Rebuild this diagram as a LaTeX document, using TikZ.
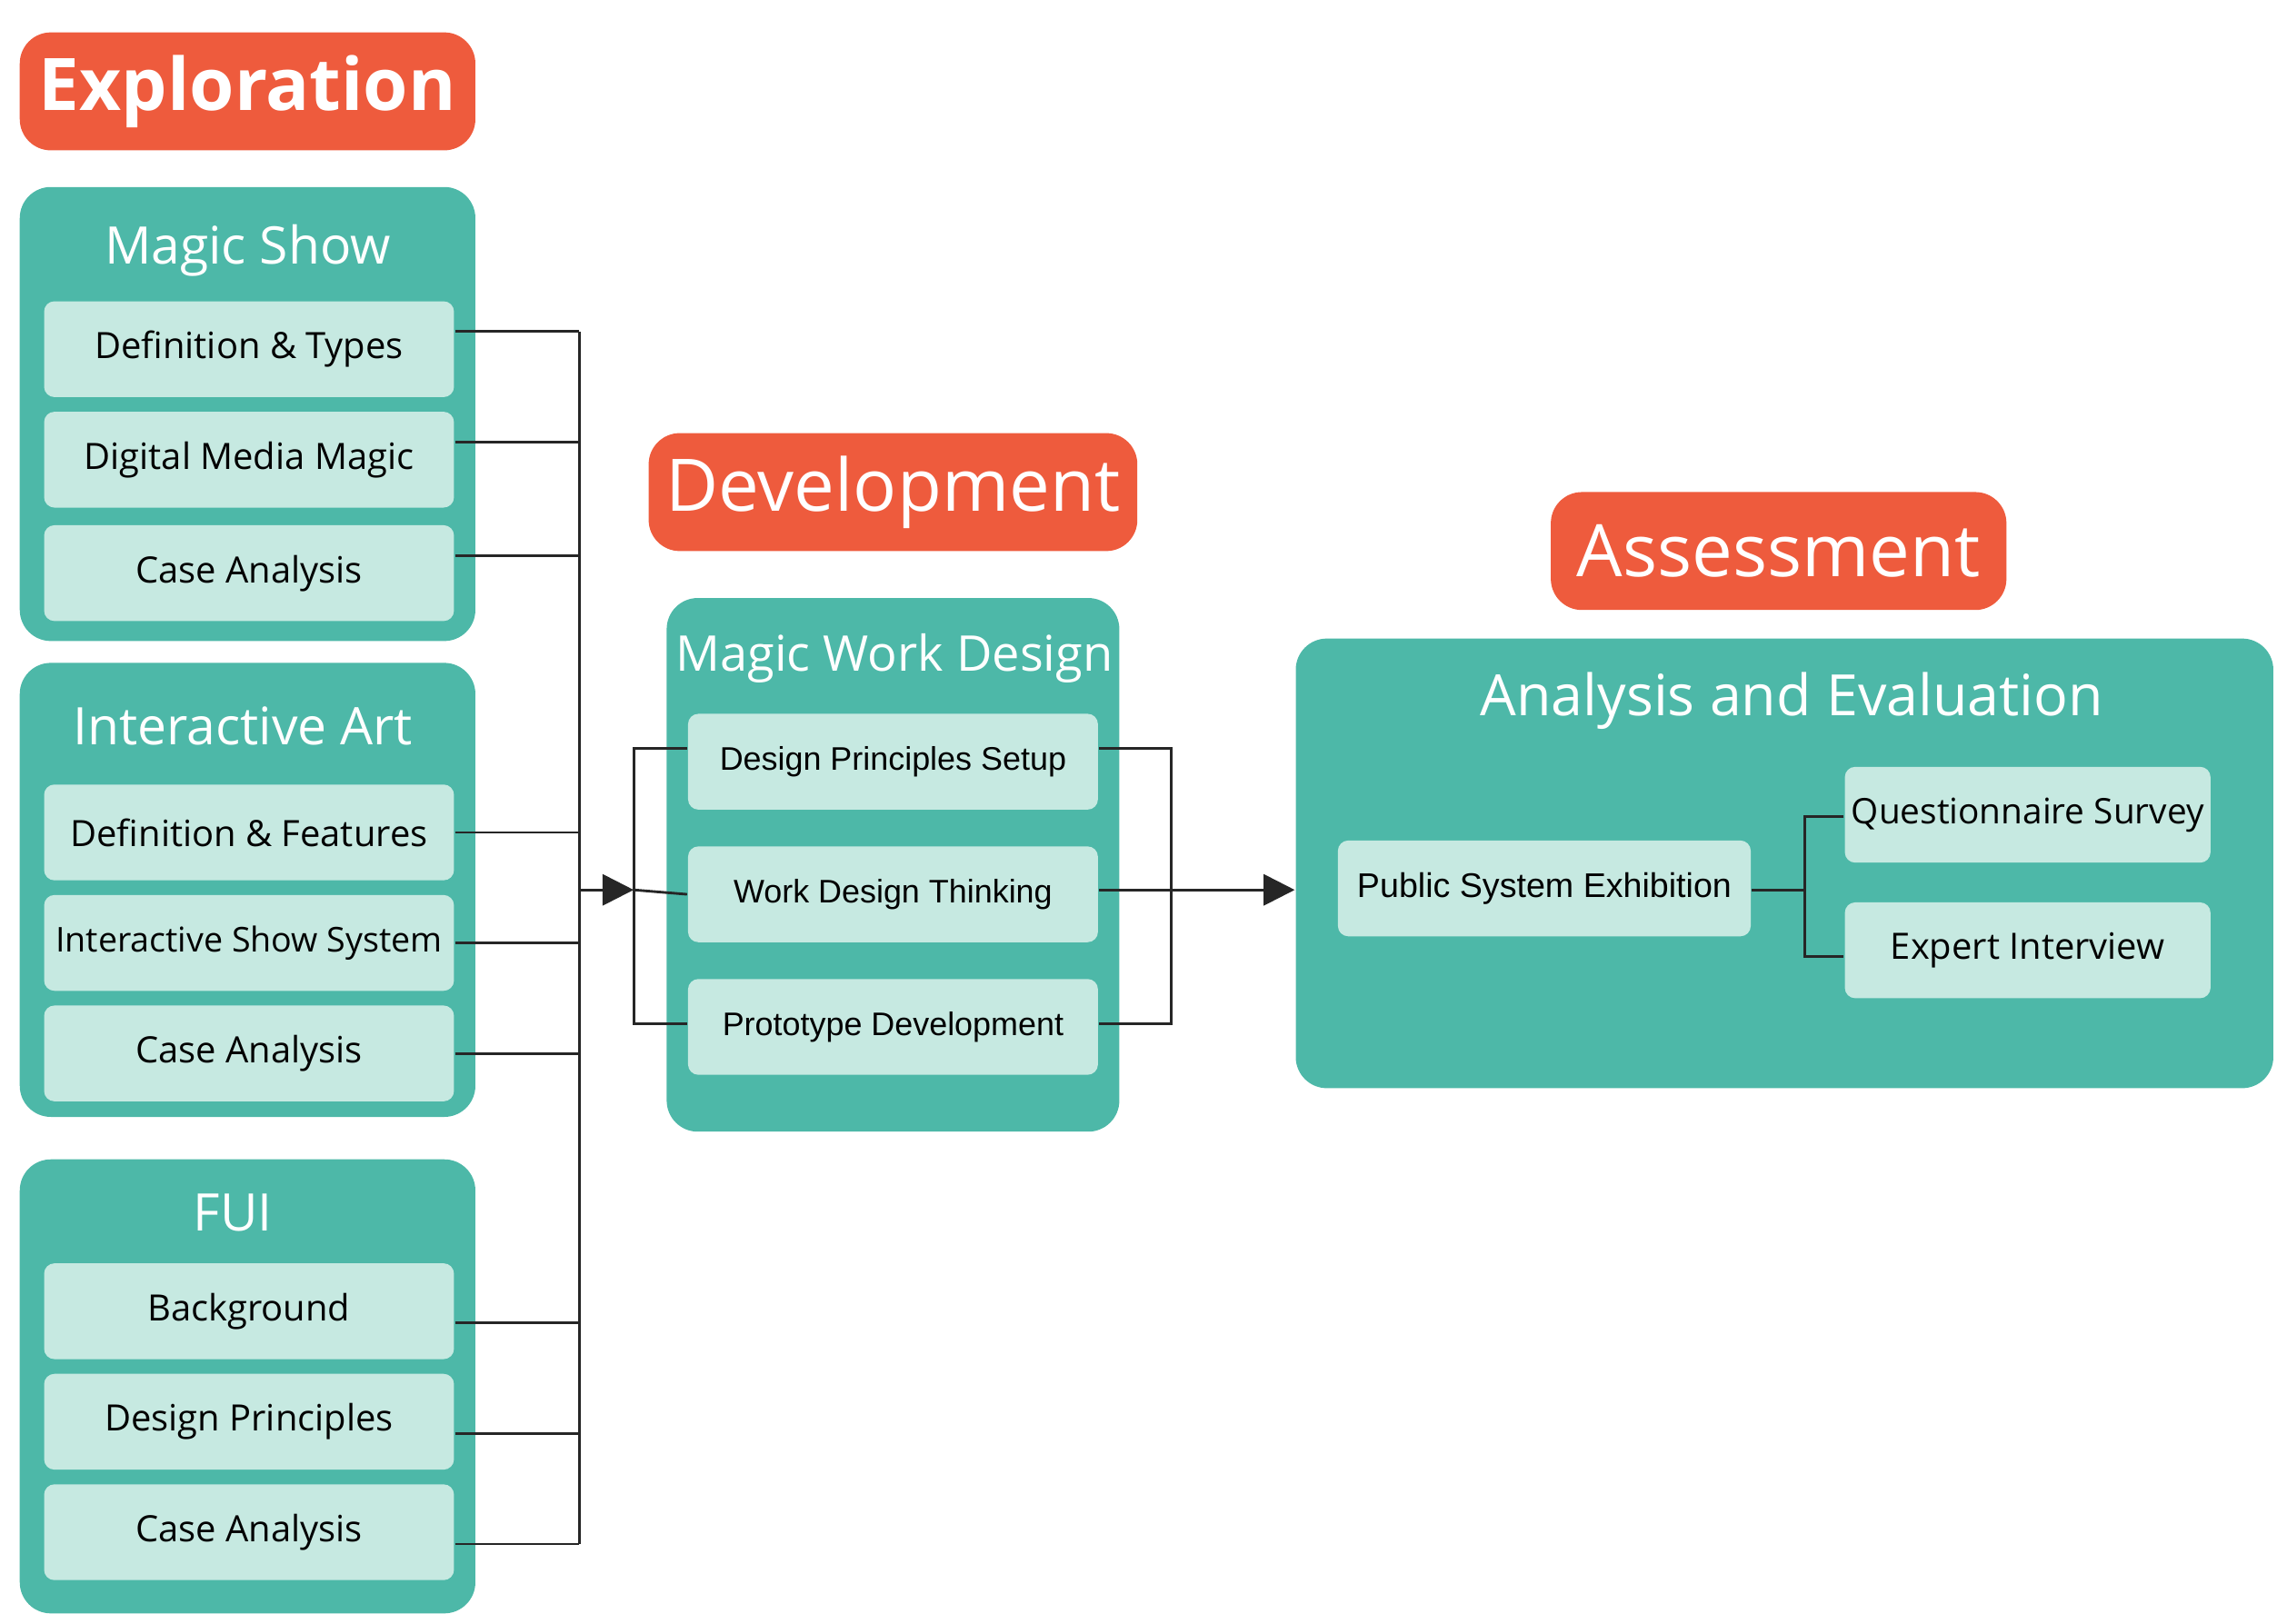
\documentclass[tikz,border=0pt]{standalone}
\usepackage{fontspec}
\setmainfont{Open Sans}
\newfontfamily\arialf{Liberation Sans}
\usetikzlibrary{arrows.meta}
\definecolor{orng}{HTML}{EE5B3D}
\definecolor{teal}{HTML}{4DB8A8}
\definecolor{pale}{HTML}{C6E9E1}
\tikzset{
  phase/.style={rectangle, rounded corners=6pt, fill=orng, text=white,
    font=\bfseries\fontsize{14}{16}\selectfont, minimum width=3.09cm, minimum height=0.8cm},
  panel/.style={rectangle, rounded corners=6pt, fill=teal},
  ptitle/.style={text=white, font=\fontsize{10}{12}\selectfont},
  item/.style={rectangle, rounded corners=2pt, fill=pale, text=black,
    font=\fontsize{7}{8}\selectfont, minimum width=2.78cm, minimum height=0.65cm, inner sep=1pt},
  ditem/.style={item, font=\arialf\fontsize{6.3}{8}\selectfont},
  link/.style={draw=black!85, line width=0.5pt},
  arr/.style={link, -{Triangle[length=6pt,width=6pt]}}
}
\begin{document}
\begin{tikzpicture}[x=0.01cm, y=-0.01cm]
\useasboundingbox (0,0) rectangle (1552,1102);

% Exploration
\node[phase] (expl) at (168,62) {Exploration};
\node[panel, minimum width=3.09cm, minimum height=3.08cm] (ms) at (168,281) {};
\node[ptitle] (mst) at (168,170) {Magic Show};
\node[item] (ms1) at (169,237) {Definition \& Types};
\node[item] (ms2) at (169,312) {Digital Media Magic};
\node[item] (ms3) at (169,389) {Case Analysis};

\node[panel, minimum width=3.09cm, minimum height=3.08cm] (ia) at (168,604) {};
\node[ptitle] (iat) at (165,493) {Interactive Art};
\node[item] (ia1) at (169,565) {Definition \& Features};
\node[item, font=\fontsize{6.6}{8}\selectfont] (ia2) at (169,640) {Interactive Show System};
\node[item] (ia3) at (169,715) {Case Analysis};

\node[panel, minimum width=3.09cm, minimum height=3.08cm] (fui) at (168,941) {};
\node[ptitle] (fuit) at (158,823) {FUI};
\node[item] (f1) at (169,890) {Background};
\node[item] (f2) at (169,965) {Design Principles};
\node[item] (f3) at (169,1040) {Case Analysis};

\coordinate (bus) at (393,604);
\foreach \n/\yy in {ms1/225,ms2/300,ms3/377,ia1/565,ia2/640,ia3/715,f1/898,f2/973,f3/1048}
  \draw[link] (\n.east |- 0,\yy) -- (393,\yy);
\draw[link] (393,225) -- (393,1048);

% Development
\node[phase, font=\fontsize{14}{16}\selectfont] (dev) at (606,334) {Development};
\node[panel, minimum width=3.07cm, minimum height=3.62cm] (mwd) at (606,587) {};
\node[ptitle, font=\fontsize{9.5}{12}\selectfont] (mwdt) at (607,447) {Magic Work Design};
\node[ditem] (d1) at (606,517) {Design Principles Setup};
\node[ditem] (d2) at (606,607) {Work Design Thinking};
\node[ditem] (d3) at (606,697) {Prototype Development};

\coordinate (lb) at (430,604);
\draw[arr] (bus) -- (lb);
\draw[link] (lb) -- (d2.west);
\draw[link] (d1.west |- 0,508) -| (430,695) -- (d3.west |- 0,695);
\draw[link] (d1.east |- 0,508) -| (795,695) -- (d3.east |- 0,695);
\draw[link] (d2.east |- 0,604) -- (795,604);
\coordinate (rb) at (795,604);

% Assessment
\node[phase, font=\fontsize{14}{16}\selectfont] (ass) at (1207,374) {Assessment};
\node[panel, minimum width=6.63cm, minimum height=3.05cm] (ae) at (1211,586) {};
\node[ptitle, font=\fontsize{11}{13}\selectfont] (aet) at (1216,476) {Analysis and Evaluation};
\node[ditem, font=\arialf\fontsize{6.6}{8}\selectfont, minimum width=2.8cm] (pse) at (1048,603) {Public System Exhibition};
\node[item, minimum width=2.48cm, font=\fontsize{6.8}{8}\selectfont] (qs) at (1376,553) {Questionnaire Survey};
\node[item, minimum width=2.48cm] (ei) at (1376,645) {Expert Interview};

\draw[arr] (rb) -- (ae.west |- 0,604);
\draw[link] (pse.east |- 0,604) -- (1225,604);
\draw[link] (qs.west |- 0,554) -| (1225,649) -- (ei.west |- 0,649);
\end{tikzpicture}
\end{document}
